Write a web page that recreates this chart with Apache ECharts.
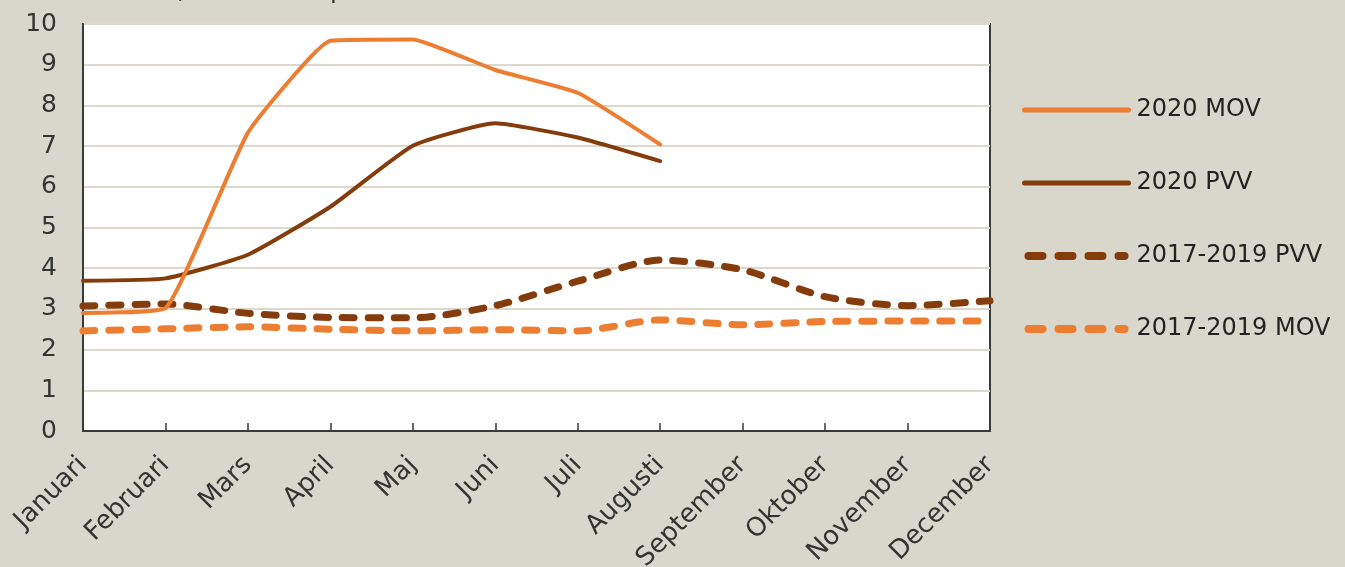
<!DOCTYPE html>
<html>
<head>
<meta charset="utf-8">
<script src="https://cdn.jsdelivr.net/npm/echarts@6/dist/echarts.min.js"></script>
<style>
html,body{margin:0;padding:0;background:#d9d7cb;}
#c{width:1345px;height:567px;}
</style>
</head>
<body>
<div id="c"></div>
<script>
const months = ['Januari','Februari','Mars','April','Maj','Juni','Juli','Augusti','September','Oktober','November','December'];
const mov2020 = [2.90, 3.02, 7.33, 9.59, 9.62, 8.87, 8.31, 7.04, null, null, null, null];
const pvv2020 = [3.69, 3.75, 4.33, 5.51, 7.01, 7.56, 7.21, 6.63, null, null, null, null];
const pvv1719 = [3.07, 3.12, 2.89, 2.79, 2.78, 3.08, 3.68, 4.20, 3.96, 3.30, 3.08, 3.20];
const mov1719 = [2.46, 2.51, 2.56, 2.50, 2.46, 2.49, 2.46, 2.73, 2.61, 2.69, 2.70, 2.70];
const yTicks = [0,1,2,3,4,5,6,7,8,9,10];
const titleText = 'PVV tusental, MOV antal per tusental';

const ORANGE = '#ED7D31';
const BROWN = '#843C0C';
const FONT = 'DejaVu Sans';

const DASH_ICON = 'path://M4,0h14a4,4 0 0 1 0,8h-14a4,4 0 0 1 0,-8z' +
  'M34,0h14a4,4 0 0 1 0,8h-14a4,4 0 0 1 0,-8z' +
  'M64,0h14a4,4 0 0 1 0,8h-14a4,4 0 0 1 0,-8z' +
  'M94,0h6a4,4 0 0 1 0,8h-6a4,4 0 0 1 0,-8z';

const chart = echarts.init(document.getElementById('c'));
function solid(color){ return {color:color, width:4, type:'solid', cap:'round', join:'round'}; }
function dashed(color){ return {color:color, width:7, type:[12,14], cap:'round', join:'round'}; }
function legSolid(color){ return {color:color, width:5, type:'solid', cap:'round'}; }

chart.setOption({
  backgroundColor:'#d9d7cb',
  animation:false,
  textStyle:{fontFamily:FONT},
  graphic:[{
    type:'text', left:18, top:-21,
    style:{text:titleText, fontFamily:FONT, fontSize:25, fill:'#333'}
  }],
  grid:{left:83, right:355, top:24, bottom:136, containLabel:false, outerBoundsMode:'none',
    show:true, backgroundColor:'#ffffff', borderColor:'#3a3a3a', borderWidth:2},
  legend:{
    orient:'vertical', left:1017, top:93,
    itemWidth:104, itemHeight:8, itemGap:49,
    itemStyle:{opacity:0},
    textStyle:{fontFamily:FONT, fontSize:24, lineHeight:24, color:'#222', padding:[0,0,0,3]},
    data:[
      {name:'2020 MOV', lineStyle:legSolid(ORANGE)},
      {name:'2020 PVV', lineStyle:legSolid(BROWN)},
      {name:'2017-2019 PVV', icon:DASH_ICON, itemStyle:{color:BROWN, opacity:1}},
      {name:'2017-2019 MOV', icon:DASH_ICON, itemStyle:{color:ORANGE, opacity:1}}
    ]
  },
  xAxis:{
    type:'category', data:months, boundaryGap:false,
    axisLine:{show:true, lineStyle:{color:'#3a3a3a', width:2}},
    axisTick:{show:true, inside:true, length:8, lineStyle:{color:'#3a3a3a', width:1.5}},
    axisLabel:{rotate:45, margin:30, fontFamily:FONT, fontSize:26, color:'#333', interval:0, hideOverlap:false},
    splitLine:{show:false}
  },
  yAxis:{
    type:'value', min:0, max:10, interval:1,
    axisLine:{show:true, lineStyle:{color:'#3a3a3a', width:2}},
    axisTick:{show:false},
    axisLabel:{margin:26, fontFamily:FONT, fontSize:25, color:'#333',
      formatter:function(v){ return yTicks.indexOf(v) >= 0 ? String(v) : ''; }},
    splitLine:{show:true, lineStyle:{color:'#dcd9cc', width:2}}
  },
  series:[
    {name:'2017-2019 MOV', type:'line', data:mov1719, smooth:0.25, symbol:'none', lineStyle:dashed(ORANGE), itemStyle:{color:ORANGE}, z:2},
    {name:'2017-2019 PVV', type:'line', data:pvv1719, smooth:0.25, symbol:'none', lineStyle:dashed(BROWN), itemStyle:{color:BROWN}, z:3},
    {name:'2020 PVV', type:'line', data:pvv2020, smooth:0.15, symbol:'none', lineStyle:solid(BROWN), itemStyle:{color:BROWN}, z:4},
    {name:'2020 MOV', type:'line', data:mov2020, smooth:0.12, symbol:'none', lineStyle:solid(ORANGE), itemStyle:{color:ORANGE}, z:5}
  ]
});
</script>
</body>
</html>
